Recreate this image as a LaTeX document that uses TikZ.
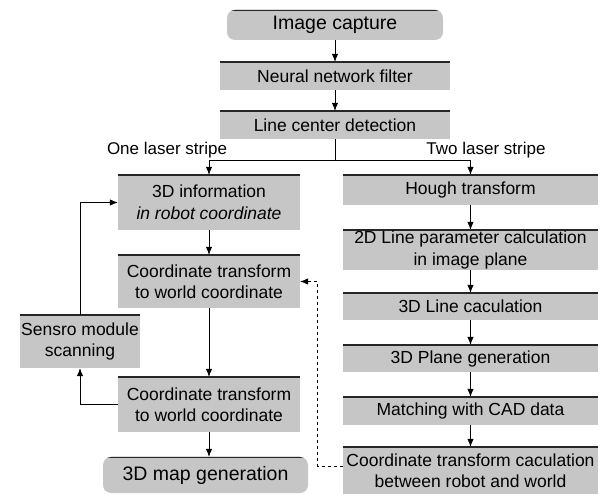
\documentclass[tikz,border=0pt]{standalone}
\usepackage{fontspec}
\setmainfont{Liberation Sans}
\usetikzlibrary{arrows.meta}
\begin{document}
\begin{tikzpicture}[x=1pt,y=-1pt,
  box/.style={fill=gray!45, inner sep=0pt, align=center,
    font=\fontsize{17.5}{21.5}\selectfont,
    path picture={\draw[line width=2pt,black!85]
      (path picture bounding box.north west) -- (path picture bounding box.north east);}},
  term/.style={box, rounded corners=8pt, font=\fontsize{19.5}{23}\selectfont},
  lbl/.style={font=\fontsize{17}{21}\selectfont, inner sep=0pt},
  arr/.style={-{Latex[length=8pt,width=6.5pt]}, line width=0.8pt},
  ln/.style={line width=0.8pt}]
\useasboundingbox (0,0) rectangle (603,494);
% top chain
\node[term, minimum width=216pt, minimum height=30pt] (cap) at (335,25) {Image capture};
\node[box, minimum width=230pt, minimum height=28pt] (nn) at (335,76) {Neural network filter};
\node[box, minimum width=230pt, minimum height=28pt] (lcd) at (335,125) {Line center detection};
\node[lbl] (one) at (167,150) {One laser stripe};
\node[lbl] (two) at (486,150) {Two laser stripe};
% left column
\node[box, minimum width=182pt, minimum height=55pt] (info) at (209,202.5) {3D information\\\textit{in robot coordinate}};
\node[box, minimum width=182pt, minimum height=53pt] (ct1) at (209,281.5) {Coordinate transform\\to world coordinate};
\node[box, minimum width=120pt, minimum height=53pt] (sens) at (80,341.5) {Sensro module\\scanning};
\node[box, minimum width=182pt, minimum height=55pt] (ct2) at (209,404.5) {Coordinate transform\\to world coordinate};
\node[term, minimum width=205pt, minimum height=36pt] (map) at (205.5,475) {3D map generation};
% right column
\node[box, minimum width=255pt, minimum height=30pt] (hough) at (470.5,190) {Hough transform};
\node[box, minimum width=255pt, minimum height=40pt] (l2d) at (470.5,250) {2D Line parameter calculation\\in image plane};
\node[box, minimum width=255pt, minimum height=27pt] (l3d) at (470.5,306.5) {3D Line caculation};
\node[box, minimum width=255pt, minimum height=27pt] (plane) at (470.5,358.5) {3D Plane generation};
\node[box, minimum width=255pt, minimum height=28pt] (match) at (470.5,411) {Matching with CAD data};
\node[box, minimum width=255pt, minimum height=47pt] (calc) at (470.5,470.5) {Coordinate transform caculation\\between robot and world};
% connectors
\draw[arr] (cap) -- (nn);
\draw[arr] (nn) -- (lcd);
\draw[ln] (lcd.south) -- ++(0,21) coordinate (br);
\draw[arr] (br) -| (info.north);
\draw[arr] (br) -| (hough.north);
\draw[arr] (info) -- (ct1);
\draw[arr] (ct1) -- (ct2);
\draw[arr] (ct2.south) -- (ct2.south |- map.north);
\draw[arr] (sens.north) |- (info.west);
\draw[arr] (ct2.west) -| (sens.south);
\draw[arr] (hough) -- (l2d);
\draw[arr] (l2d) -- (l3d);
\draw[arr] (l3d) -- (plane);
\draw[arr] (plane) -- (match);
\draw[arr] (match) -- (calc);
\draw[arr, dashed, line width=0.7pt] ([yshift=4.5pt]calc.west) -- ++(-25,0) |- (ct1.east);
\end{tikzpicture}
\end{document}
